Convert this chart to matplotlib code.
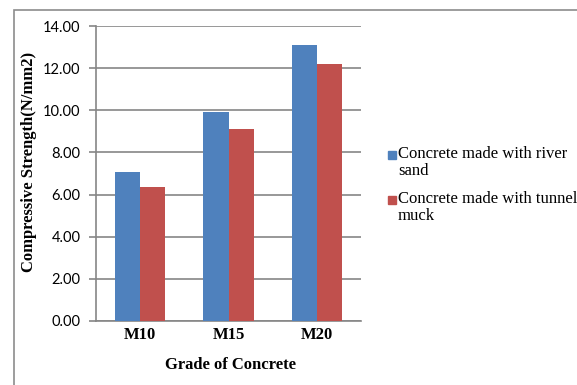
import numpy as np
import matplotlib.pyplot as plt
from matplotlib.patches import Rectangle

grades = ["M10", "M15", "M20"]
river_sand = [7.05, 9.92, 13.10]
tunnel_muck = [6.36, 9.11, 12.22]
series_names = ["Concrete made with river\nsand", "Concrete made with tunnel\nmuck"]
yticks = [0, 2, 4, 6, 8, 10, 12, 14]

blue = "#4F81BD"
red = "#C0504D"
grid_c = "#868686"
W, H = 577, 385

fig = plt.figure(figsize=(W / 100, H / 100), dpi=100)
ax = fig.add_axes([96 / W, 1 - 321 / H, 265 / W, 295 / H])

# outer chart frame
fig.patches.append(Rectangle((14 / W, -0.1), 1.2, (H - 10) / H + 0.1,
                             transform=fig.transFigure, fill=False,
                             edgecolor="#8c8c8c", linewidth=1.2))

x = np.arange(len(grades))
w = 0.285
bars = []
bars.append(ax.bar(x - w / 2, river_sand, w, color=blue, zorder=3))
bars.append(ax.bar(x + w / 2, tunnel_muck, w, color=red, zorder=3))

ax.set_xlim(-0.5, 2.5)
ax.set_ylim(0, 14)
ax.set_yticks(yticks)
ax.set_yticklabels([f"{v:.2f}" for v in yticks], fontfamily="Lato", fontsize=10.5)
ax.set_xticks(x)
ax.set_xticklabels(grades, fontfamily="Liberation Serif", fontweight="bold", fontsize=12)

ax.yaxis.grid(True, color=grid_c, linewidth=1.2, zorder=0)
ax.set_axisbelow(True)
for s in ["top", "right"]:
    ax.spines[s].set_visible(False)
for s in ["left", "bottom"]:
    ax.spines[s].set_color(grid_c)
    ax.spines[s].set_linewidth(1.2)
ax.tick_params(axis="y", length=5, color=grid_c, width=1.2, pad=6)
ax.tick_params(axis="x", length=0, pad=4)

ax.set_ylabel("Compressive Strength(N/mm2)", fontfamily="Liberation Serif",
              fontweight="bold", fontsize=12)
ax.yaxis.set_label_coords((37 - 96) / 265, (321 - 162) / 295)
ax.set_xlabel("Grade of Concrete", fontfamily="Liberation Serif",
              fontweight="bold", fontsize=12)
ax.xaxis.set_label_coords((230 - 96) / 265, (321 - 357) / 295)

# legend: square beside the first line of each label
for i, (name, c) in enumerate(zip(series_names, [blue, red])):
    top = 146 + i * 45
    fig.patches.append(Rectangle((388 / W, 1 - (top + 13) / H), 8 / W, 8 / H,
                                 transform=fig.transFigure, color=c))
    fig.text(398 / W, 1 - top / H, name, ha="left", va="top",
             fontfamily="Liberation Serif", fontsize=12, linespacing=1.05)

fig.savefig("out.png", dpi=100)
